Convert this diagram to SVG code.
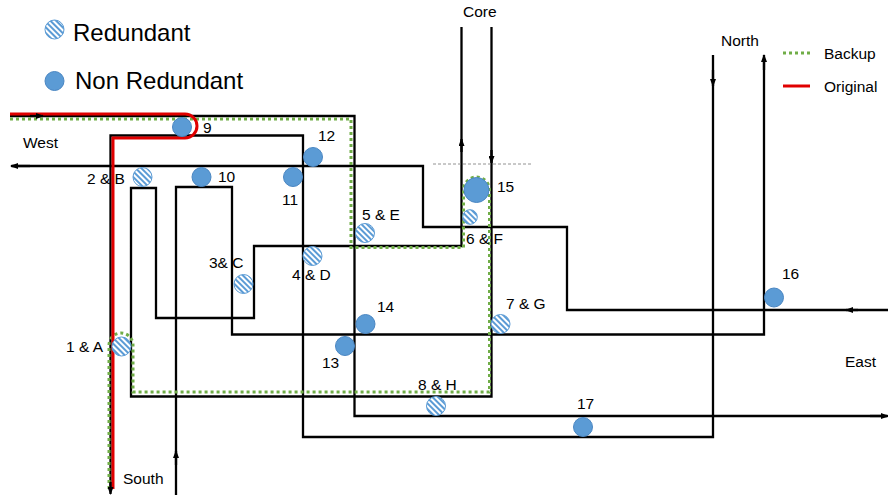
<svg xmlns="http://www.w3.org/2000/svg" width="888" height="497" viewBox="0 0 888 497">
<style>
text{font-family:"Liberation Sans",Arial,sans-serif;font-size:15.5px;fill:#000}
.leg{font-size:24px}
.ln{fill:none;stroke:#000;stroke-width:2.3}
.ar{fill:none;stroke:#000;stroke-width:2.3;marker-end:url(#arr)}
.bk{fill:none;stroke:#70AD47;stroke-width:3;stroke-dasharray:3 3}
.og{fill:none;stroke:#E00000;stroke-width:3}
.red{fill:url(#hatch);stroke:#5B9BD5;stroke-width:1}
.non{fill:#5B9BD5;stroke:#4A86C2;stroke-width:1}
</style>
<defs>
<marker id="arr" viewBox="0 0 8 6" refX="7" refY="3" markerWidth="8" markerHeight="6" markerUnits="userSpaceOnUse" orient="auto">
<path d="M0,0 L8,3 L0,6 z" fill="#000"/>
</marker>
<pattern id="hatch" patternUnits="userSpaceOnUse" width="4" height="4" patternTransform="rotate(-45)">
<rect width="4" height="4" fill="#fff"/>
<rect width="2" height="4" fill="#5B9BD5"/>
</pattern>
</defs>
<rect width="888" height="497" fill="#fff"/>

<g id="legend">
<circle class="red" cx="54.5" cy="29.5" r="9.5"/>
<text class="leg" x="73" y="41">Redundant</text>
<circle class="non" cx="54.5" cy="81" r="9.5"/>
<text class="leg" x="75" y="89">Non Redundant</text>
<line class="bk" x1="783" y1="53" x2="810" y2="53"/>
<text x="824" y="59">Backup</text>
<line class="og" x1="783" y1="86" x2="810" y2="86"/>
<text x="824" y="92">Original</text>
</g>

<g id="connectors">
<path class="ln" d="M10,116 H354.5 V416 H887"/>
<path class="ln" d="M713,55 V437 H303 V135.5 H110.5 V490"/>
<path class="ln" d="M888,310 H567 V227 H423 V166 H12"/>
<path class="ln" d="M491.5,27 V396.5 H131 V188 H156 V318 H254 V246 H461.5 V27"/>
<path class="ln" d="M176,495 V187 H232 V334.5 H764 V60"/>

<line x1="433" y1="164" x2="532" y2="164" stroke="#777" stroke-width="0.8" stroke-dasharray="3 2"/>

<path class="bk" d="M10,119 H351 V247.5 H463.5 V190 A13,13 0 0 1 489.5,190 V392 H133 V345 A12,12 0 0 0 109,345 V490"/>
<path class="og" d="M10,114 H185 A12,12 0 0 1 185,138 H113 V489"/>

<path class="ar" d="M30,116 H43"/>
<path class="ar" d="M870,416 H888"/>
<path class="ar" d="M713,70 V86"/>
<path class="ar" d="M110.5,482 V494"/>
<path class="ar" d="M858,310 H846"/>
<path class="ar" d="M30,166 H11"/>
<path class="ar" d="M491.5,150 V163"/>
<path class="ar" d="M461.5,152 V139"/>
<path class="ar" d="M176,465 V451"/>
<path class="ar" d="M764,70 V55"/>
</g>

<g id="node-9"><circle class="non" cx="182" cy="127" r="9.5"/><text x="203" y="133">9</text></g>
<g id="node-2B"><circle class="red" cx="142.5" cy="177" r="9.5"/><text x="87" y="184">2 &amp; B</text></g>
<g id="node-10"><circle class="non" cx="201.5" cy="177" r="9.5"/><text x="218" y="182">10</text></g>
<g id="node-11"><circle class="non" cx="293" cy="177" r="9.5"/><text x="282" y="205">11</text></g>
<g id="node-12"><circle class="non" cx="313" cy="157" r="9.5"/><text x="318" y="141">12</text></g>
<g id="node-5E"><circle class="red" cx="365" cy="233" r="9.5"/><text x="362" y="220">5 &amp; E</text></g>
<g id="node-15"><circle class="non" cx="476.5" cy="190" r="12.5"/><text x="497" y="192">15</text></g>
<g id="node-6F"><circle class="red" cx="470" cy="217" r="7.3"/><text x="466" y="244">6 &amp; F</text></g>
<g id="node-4D"><circle class="red" cx="312.5" cy="256" r="9.5"/><text x="292" y="280">4 &amp; D</text></g>
<g id="node-3C"><circle class="red" cx="243.5" cy="284" r="9.5"/><text x="209" y="268">3&amp; C</text></g>
<g id="node-14"><circle class="non" cx="365.5" cy="324" r="9.5"/><text x="377" y="312">14</text></g>
<g id="node-13"><circle class="non" cx="345" cy="346" r="9.5"/><text x="322" y="368">13</text></g>
<g id="node-1A"><circle class="red" cx="121.5" cy="346.5" r="9.5"/><text x="66" y="352">1 &amp; A</text></g>
<g id="node-8H"><circle class="red" cx="436" cy="406" r="9.5"/><text x="418" y="390">8 &amp; H</text></g>
<g id="node-7G"><circle class="red" cx="500.5" cy="324" r="9.5"/><text x="506" y="309">7 &amp; G</text></g>
<g id="node-16"><circle class="non" cx="774" cy="297.5" r="9.5"/><text x="782" y="279">16</text></g>
<g id="node-17"><circle class="non" cx="583" cy="427" r="9.5"/><text x="577" y="409">17</text></g>

<g id="directions">
<text x="23" y="148">West</text>
<text x="463" y="17">Core</text>
<text x="721" y="46">North</text>
<text x="845" y="367">East</text>
<text x="123" y="484">South</text>
</g>
</svg>
